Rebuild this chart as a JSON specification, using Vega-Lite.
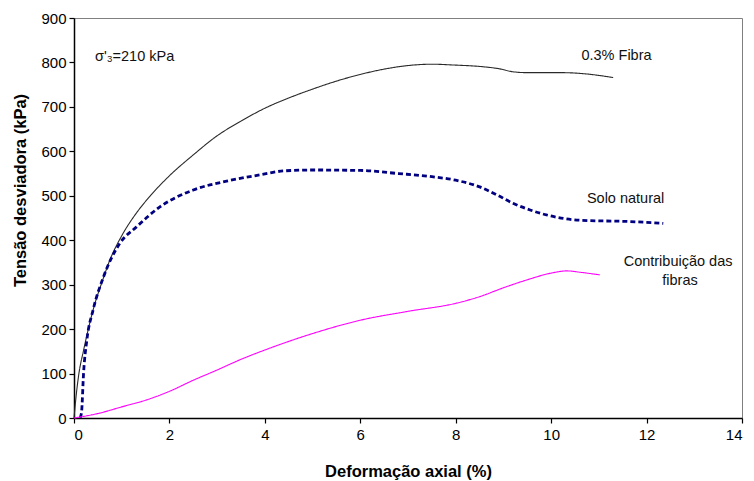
{
  "$schema": "https://vega.github.io/schema/vega-lite/v6.json",
  "width": 668,
  "height": 400,
  "autosize": {"type": "none"},
  "padding": {"left": 74, "top": 18, "right": 12, "bottom": 63},
  "background": "white",
  "config": {
    "view": {"stroke": "#808080", "strokeWidth": 1},
    "font": "Liberation Sans",
    "axis": {"grid": false, "domainColor": "black", "tickColor": "black", "labelColor": "black", "titleColor": "black", "labelFontSize": 15, "titleFontSize": 16.5, "titleFontWeight": "bold", "tickSize": 5, "domainWidth": 1.5, "tickWidth": 1.2}
  },
  "datasets": {
    "curves": [
      {"s": "Fibra", "x": 0, "y": 0}, {"s": "Fibra", "x": 0.05, "y": 55}, {"s": "Fibra", "x": 0.1, "y": 98}, {"s": "Fibra", "x": 0.2, "y": 152}, {"s": "Fibra", "x": 0.3, "y": 200}, {"s": "Fibra", "x": 0.4, "y": 243}, {"s": "Fibra", "x": 0.6, "y": 310}, {"s": "Fibra", "x": 0.75, "y": 355}, {"s": "Fibra", "x": 1.0, "y": 410}, {"s": "Fibra", "x": 1.3, "y": 460}, {"s": "Fibra", "x": 1.6, "y": 500}, {"s": "Fibra", "x": 2.0, "y": 545}, {"s": "Fibra", "x": 2.5, "y": 592}, {"s": "Fibra", "x": 3.0, "y": 635}, {"s": "Fibra", "x": 3.5, "y": 668}, {"s": "Fibra", "x": 4.0, "y": 697}, {"s": "Fibra", "x": 4.5, "y": 720}, {"s": "Fibra", "x": 5.0, "y": 740}, {"s": "Fibra", "x": 5.5, "y": 758}, {"s": "Fibra", "x": 6.0, "y": 773}, {"s": "Fibra", "x": 6.5, "y": 785}, {"s": "Fibra", "x": 7.0, "y": 793}, {"s": "Fibra", "x": 7.5, "y": 796}, {"s": "Fibra", "x": 8.0, "y": 794}, {"s": "Fibra", "x": 8.5, "y": 791}, {"s": "Fibra", "x": 8.9, "y": 786}, {"s": "Fibra", "x": 9.2, "y": 779}, {"s": "Fibra", "x": 9.5, "y": 777}, {"s": "Fibra", "x": 10.25, "y": 777}, {"s": "Fibra", "x": 10.75, "y": 774}, {"s": "Fibra", "x": 11.3, "y": 766},
      {"s": "Solo", "x": 0.13, "y": 0}, {"s": "Solo", "x": 0.16, "y": 15}, {"s": "Solo", "x": 0.2, "y": 100}, {"s": "Solo", "x": 0.27, "y": 176}, {"s": "Solo", "x": 0.4, "y": 243}, {"s": "Solo", "x": 0.62, "y": 318}, {"s": "Solo", "x": 0.96, "y": 393}, {"s": "Solo", "x": 1.31, "y": 430}, {"s": "Solo", "x": 1.8, "y": 475}, {"s": "Solo", "x": 2.5, "y": 513}, {"s": "Solo", "x": 3.2, "y": 533}, {"s": "Solo", "x": 3.9, "y": 547}, {"s": "Solo", "x": 4.4, "y": 556}, {"s": "Solo", "x": 5.0, "y": 558}, {"s": "Solo", "x": 6.0, "y": 557}, {"s": "Solo", "x": 6.8, "y": 550}, {"s": "Solo", "x": 7.5, "y": 543}, {"s": "Solo", "x": 8.0, "y": 535}, {"s": "Solo", "x": 8.5, "y": 520}, {"s": "Solo", "x": 8.9, "y": 500}, {"s": "Solo", "x": 9.2, "y": 483}, {"s": "Solo", "x": 9.56, "y": 468}, {"s": "Solo", "x": 9.9, "y": 457}, {"s": "Solo", "x": 10.6, "y": 445}, {"s": "Solo", "x": 11.65, "y": 442}, {"s": "Solo", "x": 12.35, "y": 438},
      {"s": "Contrib", "x": 0, "y": 0}, {"s": "Contrib", "x": 0.5, "y": 10}, {"s": "Contrib", "x": 1.0, "y": 25}, {"s": "Contrib", "x": 1.5, "y": 40}, {"s": "Contrib", "x": 2.0, "y": 60}, {"s": "Contrib", "x": 2.5, "y": 85}, {"s": "Contrib", "x": 3.0, "y": 108}, {"s": "Contrib", "x": 3.5, "y": 132}, {"s": "Contrib", "x": 4.0, "y": 153}, {"s": "Contrib", "x": 5.0, "y": 190}, {"s": "Contrib", "x": 6.0, "y": 220}, {"s": "Contrib", "x": 7.0, "y": 240}, {"s": "Contrib", "x": 8.0, "y": 258}, {"s": "Contrib", "x": 8.5, "y": 273}, {"s": "Contrib", "x": 9.0, "y": 293}, {"s": "Contrib", "x": 9.5, "y": 311}, {"s": "Contrib", "x": 10.0, "y": 326}, {"s": "Contrib", "x": 10.33, "y": 331}, {"s": "Contrib", "x": 10.6, "y": 328}, {"s": "Contrib", "x": 11.02, "y": 322}
    ],
    "labels": [
      {"x": 1.27, "y": 812, "t": "σ'₃=210 kPa"},
      {"x": 11.37, "y": 815, "t": "0.3% Fibra"},
      {"x": 11.56, "y": 493, "t": "Solo natural"},
      {"x": 12.66, "y": 351, "t": "Contribuição das"},
      {"x": 12.7, "y": 308, "t": "fibras"}
    ]
  },
  "layer": [
    {
      "data": {"name": "curves"},
      "mark": {"type": "line", "interpolate": "monotone"},
      "encoding": {
        "x": {"field": "x", "type": "quantitative", "scale": {"domain": [0, 14], "nice": false}, "axis": {"values": [0, 2, 4, 6, 8, 10, 12, 14], "title": "Deformação axial (%)", "titleY": 58, "titleBaseline": "alphabetic", "labelPadding": 4}},
        "y": {"field": "y", "type": "quantitative", "scale": {"domain": [0, 900], "nice": false}, "axis": {"values": [0, 100, 200, 300, 400, 500, 600, 700, 800, 900], "title": "Tensão desviadora (kPa)", "titleX": -49, "titleY": 172, "titleBaseline": "alphabetic", "labelPadding": 3}},
        "detail": {"field": "s"},
        "color": {"field": "s", "type": "nominal", "scale": {"domain": ["Fibra", "Solo", "Contrib"], "range": ["#2a2a2a", "#000080", "#ff00ff"]}, "legend": null},
        "strokeDash": {"field": "s", "type": "nominal", "scale": {"domain": ["Fibra", "Solo", "Contrib"], "range": [[1, 0], [5, 3], [1, 0]]}, "legend": null},
        "strokeWidth": {"field": "s", "type": "nominal", "scale": {"type": "ordinal", "domain": ["Fibra", "Solo", "Contrib"], "range": [1.1, 2.8, 1.1]}, "legend": null},
        "order": {"field": "x", "type": "quantitative"}
      }
    },
    {
      "data": {"name": "labels"},
      "mark": {"type": "text", "fontSize": 14.5, "color": "#111", "baseline": "middle", "align": "center"},
      "encoding": {
        "x": {"field": "x", "type": "quantitative"},
        "y": {"field": "y", "type": "quantitative"},
        "text": {"field": "t"}
      }
    }
  ]
}
